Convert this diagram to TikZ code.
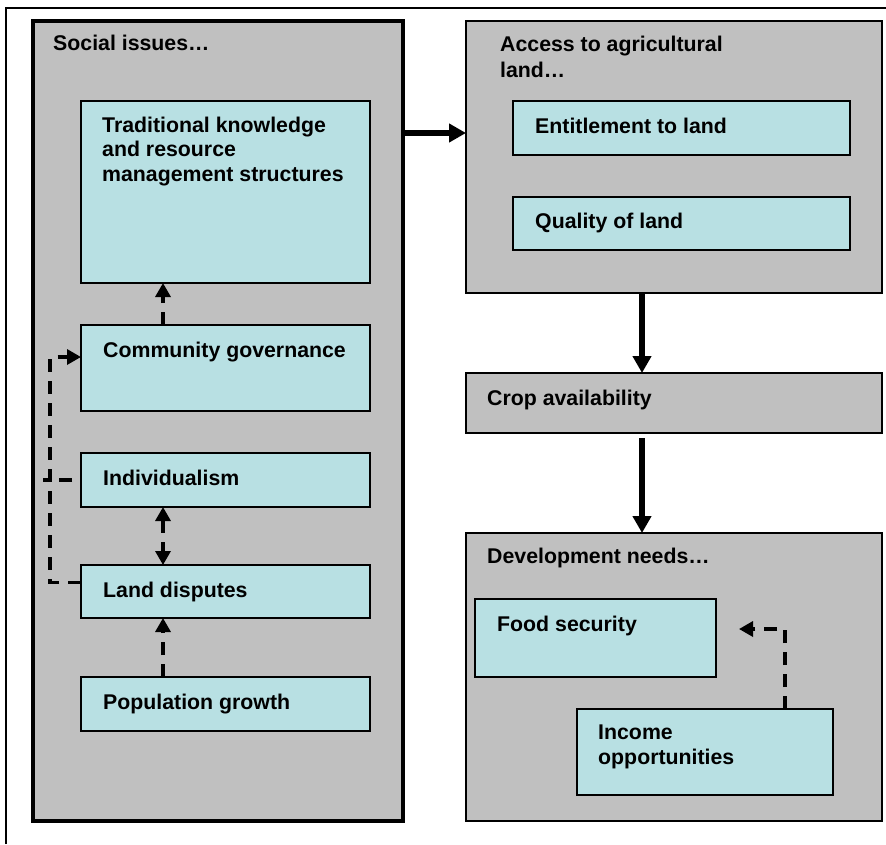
\documentclass[tikz,border=0pt]{standalone}
\usepackage{fontspec}
\setmainfont{Liberation Sans}
\usetikzlibrary{arrows.meta}
\definecolor{boxgray}{RGB}{192,192,192}
\definecolor{boxcyan}{RGB}{184,224,227}
\tikzset{outerbox/.style = {draw, fill=boxgray, line width=1.8pt, anchor=north west, inner sep=0, outer sep=0}}
\tikzset{socialbox/.style = {outerbox, line width=3.3pt}}
\tikzset{innerbox/.style = {draw, fill=boxcyan, line width=1.5pt, anchor=north west, inner sep=0, outer sep=0}}
\tikzset{txt/.style = {anchor=base west, inner sep=0, align=left, font=\bfseries\fontsize{21.3}{24.5}\selectfont}}
\tikzset{bigarrow/.style = {line width=5.5pt, -{Triangle[length=17pt,width=18pt]}}}
\tikzset{dashline/.style = {line width=3.3pt, dash pattern=on 13pt off 9pt}}
\tikzset{dasharrow/.style = {dashline, -{Triangle[length=14pt,width=15pt]}}}

\begin{document}
\begin{tikzpicture}[x=1pt,y=-1pt]
        \useasboundingbox (0,0) rectangle (886,844);
        \draw [line width=1.5pt] (6,844) -- (6,8) -- (886,8);
        % grey boxes
        \node[socialbox, minimum width=370pt, minimum height=800pt] (social) at (33,21) {};
        \node[outerbox, minimum width=416pt, minimum height=272pt] (access) at (466,21) {};
        \node[outerbox, minimum width=416pt, minimum height=60pt] (crop) at (466,373) {};
        \node[outerbox, minimum width=416pt, minimum height=288pt] (devel) at (466,533) {};
        % blue boxes
        \node[innerbox, minimum width=289pt, minimum height=182pt] (trad) at (81,101) {};
        \node[innerbox, minimum width=289pt, minimum height=86pt] (comm) at (81,325) {};
        \node[innerbox, minimum width=289pt, minimum height=54pt] (indiv) at (81,453) {};
        \node[innerbox, minimum width=289pt, minimum height=53pt] (land) at (81,565) {};
        \node[innerbox, minimum width=289pt, minimum height=54pt] (popul) at (81,677) {};
        \node[innerbox, minimum width=337pt, minimum height=54pt] (entitle) at (513,101) {};
        \node[innerbox, minimum width=337pt, minimum height=53pt] (quality) at (513,197) {};
        \node[innerbox, minimum width=241pt, minimum height=78pt] (food) at (475,599) {};
        \node[innerbox, minimum width=256pt, minimum height=86pt] (income) at (577,709) {};
        % texts (base = last line)
        \node[txt] (social-t) at (53,50) {Social issues…};
        \node[txt] (access-t) at (500,77) {Access to agricultural\\[1.5pt]land…};
        \node[txt] (trad-t) at (102,181) {Traditional knowledge\\and resource\\management structures};
        \node[txt] (comm-t) at (103,357) {Community governance};
        \node[txt] (indiv-t) at (103,485) {Individualism};
        \node[txt] (land-t) at (103,597) {Land disputes};
        \node[txt] (popul-t) at (103,709) {Population growth};
        \node[txt] (entitle-t) at (535,133) {Entitlement to land};
        \node[txt] (quality-t) at (535,228) {Quality of land};
        \node[txt] (crop-t) at (487,405) {Crop availability};
        \node[txt] (devel-t) at (487,563) {Development needs…};
        \node[txt] (food-t) at (497,631) {Food security};
        \node[txt] (income-t) at (598,764) {Income\\opportunities};
        % arrows
        \coordinate (row) at (0,133);
        \coordinate (col) at (163,0);
        \coordinate (foodtip) at (739,629);
        \draw [bigarrow] (social.east |- row) -- (access.west |- row);
        \draw [bigarrow] ([xshift=-32pt]access.south) -- ([xshift=-32pt]crop.north);
        \draw [bigarrow] ([xshift=-32pt,yshift=-5pt]crop.south) -- ([xshift=-32pt]devel.north);
        \draw [dasharrow] (comm.north -| col) -- (trad.south -| col);
        \draw [dasharrow, {Triangle[length=14pt,width=15pt]}-{Triangle[length=14pt,width=15pt]}] (indiv.south -| col) -- (land.north -| col);
        \draw [dasharrow] (popul.north -| col) -- (land.south -| col);
        \draw [dasharrow] ([yshift=9pt]land.west) -- ++(-31,0) |- ([yshift=11pt]comm.west);
        \draw [dashline, dash phase=13pt] (indiv.west) -- ++(-38,0);
        \draw [dasharrow] ([xshift=80pt]income.north) |- (foodtip);
    \end{tikzpicture}
\end{document}
